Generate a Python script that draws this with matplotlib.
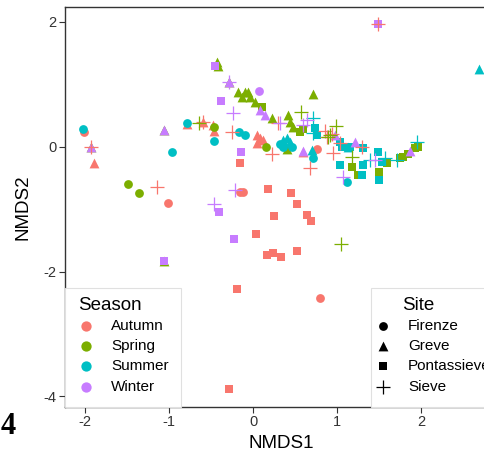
import matplotlib
matplotlib.use("Agg")
import matplotlib.pyplot as plt
from matplotlib.patches import Rectangle

plt.rcParams['font.family'] = ['Liberation Sans', 'DejaVu Sans']

seasons = ["Autumn", "Spring", "Summer", "Winter"]
season_colors = ["#F8766D", "#7CAE00", "#00BFC4", "#C77CFF"]
sites = ["Firenze", "Greve", "Pontassieve", "Sieve"]

# NMDS coordinates per season and site
autumn_firenze_x = [-2.01, -1.01, -0.15, -0.12, 0.76, 0.80]
autumn_firenze_y = [0.24, -0.90, -0.72, -0.72, -0.03, -2.42]
autumn_greve_x = [-1.90, -0.79, -0.60, -0.48, -0.46, 0.05, 0.08, 0.12, 0.05, 0.60]
autumn_greve_y = [-0.26, 0.37, 0.40, 0.35, 0.26, 0.19, 0.14, 0.11, 0.06, -0.08]
autumn_pont_x = [-0.15, 0.18, 0.45, 0.52, 0.25, 0.64, 0.69, 0.04, 0.17, 0.24, 0.33, 0.52, -0.19, -0.29]
autumn_pont_y = [-0.26, -0.67, -0.74, -0.91, -1.11, -1.09, -1.19, -1.39, -1.73, -1.70, -1.76, -1.67, -2.28, -3.88]
autumn_sieve_x = [-1.93, -1.14, -0.60, -0.25, 0.23, 0.30, 0.68, 0.86, 0.94, 1.30, 1.04, 0.95, 1.49, 0.88]
autumn_sieve_y = [0.0, -0.64, 0.40, 0.24, -0.11, 0.38, -0.34, 0.26, 0.21, 0.0, 0.06, -0.10, 1.96, 0.16]

spring_firenze_x = [-1.49, -1.36, 0.15, -0.46]
spring_firenze_y = [-0.59, -0.74, 0.0, 0.32]
spring_greve_x = [-1.93, -1.06, -1.06, -0.43, -0.42, -0.29, -0.18, -0.10, -0.06, -0.13, -0.04, 0.02, 0.23, 0.42, 0.44, 0.48, 0.71, 0.40]
spring_greve_y = [0.0, 0.27, -1.83, 1.36, 1.30, 1.04, 0.87, 0.88, 0.87, 0.80, 0.79, 0.72, 0.46, 0.51, 0.40, 0.32, 0.85, -0.03]
spring_pont_x = [0.11, 0.60, 0.56, 1.18, 1.25, 1.50, 1.60, 1.75, 1.79, 1.85, 1.93, 1.96]
spring_pont_y = [0.64, 0.29, 0.24, -0.32, -0.45, -0.40, -0.26, -0.18, -0.16, -0.11, -0.02, 0.0]
spring_sieve_x = [-0.65, 0.57, 0.99, 0.89, 1.18, 1.05, 0.92]
spring_sieve_y = [0.38, 0.56, 0.34, 0.16, -0.16, -1.55, 0.19]

summer_firenze_x = [-2.02, -0.96, -0.79, -0.46, -0.17, -0.10, 0.32, 0.36, 0.46, 0.71, 1.12]
summer_firenze_y = [0.29, -0.08, 0.38, 0.10, 0.24, 0.19, 0.05, 0.0, 0.0, -0.18, -0.56]
summer_greve_x = [0.36, 0.40, 0.44, 0.70, 1.13, 2.69]
summer_greve_y = [0.11, 0.14, 0.08, -0.05, 0.0, 1.25]
summer_pont_x = [0.74, 0.76, 1.04, 1.06, 1.15, 1.31, 1.49, 1.04, 1.31, 1.30, 1.54, 1.50]
summer_pont_y = [0.30, 0.19, 0.08, 0.0, 0.0, -0.02, -0.08, -0.29, -0.29, -0.45, -0.24, -0.53]
summer_sieve_x = [0.71, 1.39, 1.57, 1.71, 1.95, 0.71]
summer_sieve_y = [0.46, -0.21, -0.18, -0.21, 0.08, 0.22]

winter_firenze_x = [0.07]
winter_firenze_y = [0.90]
winter_greve_x = [-1.93, -1.06, -0.29, 0.08, 0.14, 0.60, 0.98, 1.21, 1.87]
winter_greve_y = [0.0, 0.27, 1.04, 0.59, 0.51, -0.06, 0.19, 0.08, -0.06]
winter_pont_x = [-0.45, -0.38, -0.14, -0.40, -0.23, -1.06, 1.49]
winter_pont_y = [1.30, 0.74, -0.08, -1.04, -1.47, -1.83, 1.96]
winter_sieve_x = [-0.29, -0.24, -0.21, -0.46, 0.32, 0.64, 1.07, 1.45, 0.60]
winter_sieve_y = [1.04, 0.54, -0.69, -0.91, 0.38, 0.43, -0.48, -0.21, 0.35]

data = {
    "Autumn": [(autumn_firenze_x, autumn_firenze_y), (autumn_greve_x, autumn_greve_y),
               (autumn_pont_x, autumn_pont_y), (autumn_sieve_x, autumn_sieve_y)],
    "Spring": [(spring_firenze_x, spring_firenze_y), (spring_greve_x, spring_greve_y),
               (spring_pont_x, spring_pont_y), (spring_sieve_x, spring_sieve_y)],
    "Summer": [(summer_firenze_x, summer_firenze_y), (summer_greve_x, summer_greve_y),
               (summer_pont_x, summer_pont_y), (summer_sieve_x, summer_sieve_y)],
    "Winter": [(winter_firenze_x, winter_firenze_y), (winter_greve_x, winter_greve_y),
               (winter_pont_x, winter_pont_y), (winter_sieve_x, winter_sieve_y)],
}

x_ticks = [-2, -1, 0, 1, 2]
y_ticks = [-4, -2, 0, 2]

W, H = 484, 451
fig = plt.figure(figsize=(W / 100, H / 100), dpi=100)
left, right, top, bottom = 65, 497, 7, 407
ax = fig.add_axes([left / W, 1 - bottom / H, (right - left) / W, (bottom - top) / H])
ax.set_xlim(-2.24, 2.905)
ax.set_ylim(-4.17, 2.24)

markers = {"Firenze": "o", "Greve": "^", "Pontassieve": "s", "Sieve": "+"}
sizes = {"Firenze": 40, "Greve": 50, "Pontassieve": 36, "Sieve": 95}

for s, c in zip(seasons, season_colors):
    for site, (xs, ys) in zip(sites, data[s]):
        m = markers[site]
        if m == "+":
            ax.scatter(xs, ys, marker=m, s=sizes[site], color=c, linewidths=0.9, zorder=3)
        else:
            ax.scatter(xs, ys, marker=m, s=sizes[site], color=c, linewidths=0, zorder=2)

ax.set_xticks(x_ticks)
ax.set_yticks(y_ticks)
ax.set_xticklabels([str(t) for t in x_ticks])
ax.set_yticklabels([str(t) for t in y_ticks])
ax.tick_params(axis='both', labelsize=10.5, length=4, width=0.8, color='#333333',
               labelcolor='#333333', pad=2)
for sp in ax.spines.values():
    sp.set_color('#333333')
    sp.set_linewidth(1.0)
ax.set_xlabel("NMDS1", fontsize=13.5, labelpad=4)
ax.set_ylabel("NMDS2", fontsize=13.5, labelpad=9)

# hand-drawn legends in an overlay (pixel coordinates)
ov = fig.add_axes([0, 0, 1, 1], zorder=5)
ov.set_xlim(0, W)
ov.set_ylim(H, 0)
ov.axis('off')

row_y = [326, 346, 366, 387]
ov.add_patch(Rectangle((65, 288), 116, 119, facecolor='white', edgecolor='#e0e0e0', linewidth=0.8))
ov.text(78, 305, "Season", fontsize=13.5, ha='left', va='center')
for yy, lab, c in zip(row_y, seasons, season_colors):
    ov.scatter([86], [yy], marker='o', s=55, color=c, linewidths=0)
    ov.text(111, yy, lab, fontsize=11, ha='left', va='center')

ov.add_patch(Rectangle((371, 288), 130, 119, facecolor='white', edgecolor='#e0e0e0', linewidth=0.8))
ov.text(402, 305, "Site", fontsize=13.5, ha='left', va='center')
key_sizes = {"Firenze": 40, "Greve": 50, "Pontassieve": 36, "Sieve": 110}
for yy, site in zip(row_y, sites):
    m = markers[site]
    if m == "+":
        ov.scatter([383], [yy], marker=m, s=key_sizes[site], color='black', linewidths=0.9)
    else:
        ov.scatter([383], [yy], marker=m, s=key_sizes[site], color='black', linewidths=0)
    ov.text(408, yy, site, fontsize=11, ha='left', va='center')

fig.text(1 / W, 1 - 434 / H, "4", fontsize=22, fontweight='bold',
         family=['Liberation Serif', 'DejaVu Serif'], ha='left', va='baseline')

fig.savefig("out.png", dpi=100)
